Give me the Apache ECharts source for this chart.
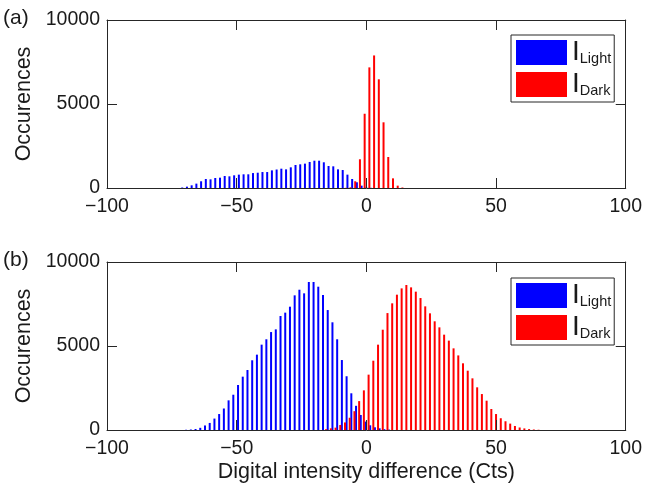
<!DOCTYPE html>
<html>
<head>
<meta charset="utf-8">
<script src="https://cdn.jsdelivr.net/npm/echarts@6/dist/echarts.min.js"></script>
<style>
html,body{margin:0;padding:0;background:#fff;}
#chart{width:645px;height:491px;}
</style>
</head>
<body>
<div id="chart"></div>
<script>
// ---- data ----
const xTicks = [-100, -50, 0, 50, 100];
const yTicks = [0, 5000, 10000];
const binWidth = 1.82;

// panel (a)
const lightAStart = -71.0;
const lightA = [30,80,160,260,400,535,515,595,615,715,695,755,795,815,815,890,910,950,950,1050,1100,1150,1110,1230,1370,1410,1450,1550,1625,1625,1530,1310,1290,1110,1070,795,535,340,140,40,10];
const darkAStart = -7.94;
const darkA = [10,40,400,1710,4420,7180,7890,6470,3910,1845,575,140,30];

// panel (b)
const lightBStart = -69.5;
const lightB = [15,30,60,130,270,420,680,950,1280,1765,2100,2680,3175,3570,4150,4485,5080,5400,5830,5990,6785,6985,7340,8015,8350,8135,8810,8810,8530,8035,7140,6410,5400,4165,3200,2185,1440,895,500,280,160,100,50,25];
const darkBStart = -15.52;
const darkB = [50,100,140,300,450,730,1120,1720,2360,3295,4125,5080,5970,6960,7540,8055,8430,8630,8490,8235,7855,7360,6945,6470,6110,5675,5320,4860,4440,3970,3530,3075,2540,2140,1745,1250,950,700,520,380,240,150,95,55,30,15];

const panelLabels = ['(a)', '(b)'];
const yName = 'Occurences';
const xName = 'Digital intensity difference (Cts)';
const seriesNames = ['Light', 'Dark'];

// ---- build ----
function pairs(start, vals) {
  return vals.map((v, i) => [start + i * binWidth, v]);
}
const FONT = 'Liberation Sans, Arial, Helvetica, sans-serif';
const AX = '#262626';
const TXT = '#1a1a1a';
const TICK_FS = 19.5;
const LABEL_FS = 21.5;
const grids = [
  {left: 107, top: 20, width: 521, height: 168},
  {left: 107, top: 262, width: 521, height: 168}
];
const minus = v => String(v).replace('-', '\u2212');

const lineCommon = {show: true, onZero: false, lineStyle: {color: AX, width: 1}};
const tickCommon = {show: true, inside: true, length: 10, lineStyle: {color: AX, width: 1}};

const xAxes = [], yAxes = [];
grids.forEach((g, gi) => {
  xAxes.push({
    type: 'value', gridIndex: gi, min: xTicks[0], max: xTicks[xTicks.length - 1],
    interval: 50, position: 'bottom', z: 10,
    axisLine: lineCommon, axisTick: tickCommon, splitLine: {show: false},
    axisLabel: {fontSize: TICK_FS, color: TXT, fontFamily: FONT, margin: 9, formatter: minus},
    name: gi === 1 ? xName : '', nameLocation: 'middle', nameGap: 31,
    nameTextStyle: {fontSize: LABEL_FS, color: TXT, fontFamily: FONT}
  });
  xAxes.push({
    type: 'value', gridIndex: gi, min: xTicks[0], max: xTicks[xTicks.length - 1],
    interval: 50, position: 'top', z: 10,
    axisLine: lineCommon, axisTick: tickCommon, splitLine: {show: false},
    axisLabel: {show: false}
  });
  yAxes.push({
    type: 'value', gridIndex: gi, min: yTicks[0], max: yTicks[yTicks.length - 1],
    interval: 5000, position: 'left', z: 10,
    axisLine: lineCommon, axisTick: tickCommon, splitLine: {show: false},
    axisLabel: {fontSize: TICK_FS, color: TXT, fontFamily: FONT, margin: 7, formatter: v => String(v)},
    name: yName, nameLocation: 'middle', nameGap: 69,
    nameTextStyle: {fontSize: LABEL_FS, color: TXT, fontFamily: FONT}
  });
  yAxes.push({
    type: 'value', gridIndex: gi, min: yTicks[0], max: yTicks[yTicks.length - 1],
    interval: 5000, position: 'right', z: 10,
    axisLine: lineCommon, axisTick: tickCommon, splitLine: {show: false},
    axisLabel: {show: false}
  });
});

function bar(name, gi, data, color) {
  return {
    type: 'bar', name: name, xAxisIndex: gi * 2, yAxisIndex: gi * 2,
    data: data, barWidth: 2, barGap: '-100%',
    itemStyle: {color: color}, animation: false, silent: true
  };
}

const series = [
  bar(seriesNames[0], 0, pairs(lightAStart, lightA), '#0000ff'),
  bar(seriesNames[1], 0, pairs(darkAStart, darkA), '#ff0000'),
  bar(seriesNames[0], 1, pairs(lightBStart, lightB), '#0000ff'),
  bar(seriesNames[1], 1, pairs(darkBStart, darkB), '#ff0000')
];

function legendAt(top) {
  return {
    orient: 'vertical', left: 511, top: top, itemWidth: 51, itemHeight: 25, itemGap: 4,
    padding: [3.5, 3, 3.5, 5], borderColor: AX, borderWidth: 1, backgroundColor: '#fff',
    icon: 'rect', selectedMode: false, data: seriesNames,
    formatter: n => '{i|I}{s|' + n + '}',
    textStyle: {
      fontFamily: FONT, color: TXT,
      rich: {
        i: {fontSize: 28, fontFamily: FONT, color: TXT, verticalAlign: 'bottom', lineHeight: 28},
        s: {fontSize: 14.5, fontFamily: FONT, color: TXT, verticalAlign: 'bottom', lineHeight: 14.5}
      }
    }
  };
}

const chart = echarts.init(document.getElementById('chart'), null, {renderer: 'canvas'});
chart.setOption({
  animation: false,
  grid: grids,
  xAxis: xAxes,
  yAxis: yAxes,
  legend: [legendAt(35), legendAt(278)],
  series: series,
  graphic: panelLabels.map((t, i) => ({
    type: 'text', left: 3, top: i === 0 ? 8 : 250,
    style: {text: t, fontSize: 21, fontFamily: FONT, fill: TXT}
  }))
});
</script>
</body>
</html>
